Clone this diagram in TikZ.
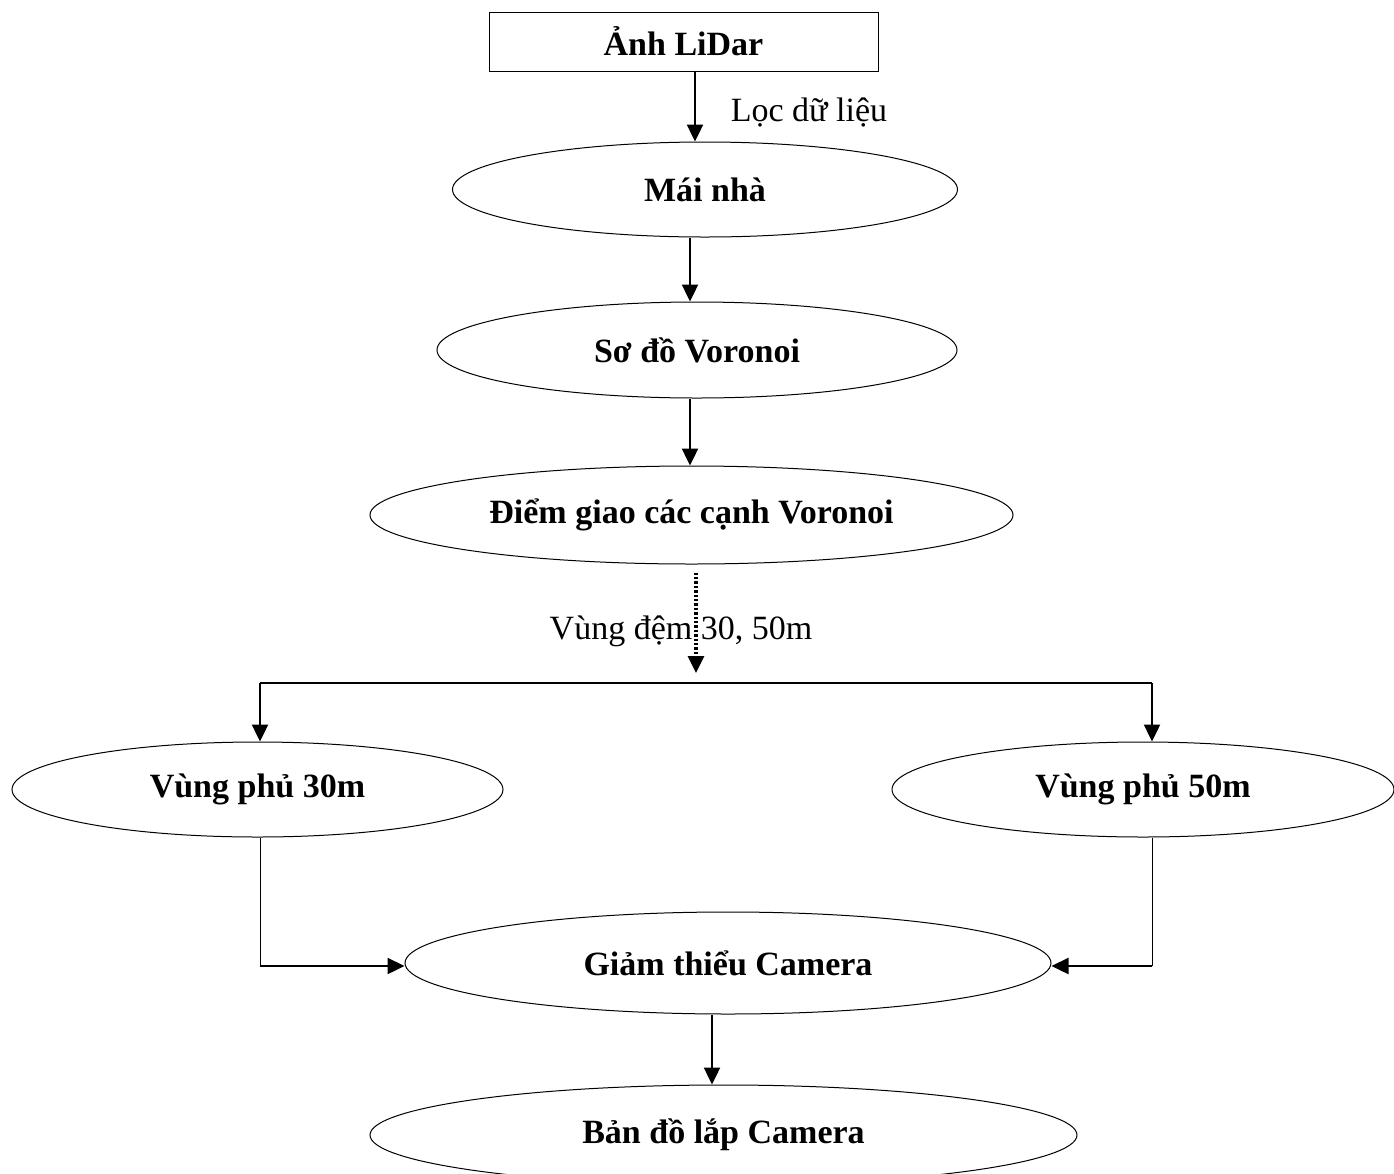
\documentclass[tikz,border=0pt]{standalone}
\usepackage{fontspec}
\setmainfont{Liberation Serif}
\usetikzlibrary{shapes.geometric,arrows.meta}

\tikzset{
  hop/.style={draw,line width=0.5pt,inner sep=0pt,font=\fontsize{17}{20}\selectfont\bfseries},
  elip/.style={hop,ellipse},
  muiten/.style={line width=1.2pt,-{Triangle[length=8.5pt,width=8pt]}},
  manh/.style={line width=0.5pt},
  nhan/.style={font=\fontsize{17}{20}\selectfont}
}

\begin{document}
\begin{tikzpicture}[x=0.5pt,y=-0.5pt]
\useasboundingbox (0,0) rectangle (1394,1174);

% Cac buoc
\node[hop,minimum width=194.5pt,minimum height=29.5pt] (lidar) at (683.5,41.5) {Ảnh LiDar};
\node[elip,minimum width=252.5pt,minimum height=47.5pt] (mai) at (705,189.5) {Mái nhà};
\node[elip,minimum width=260pt,minimum height=48pt] (sodo) at (697,350) {Sơ đồ Voronoi};
\node[elip,minimum width=321.5pt,minimum height=49pt] (diem) at (691.5,515) {Điểm giao các cạnh Voronoi};
\node[elip,minimum width=245.5pt,minimum height=47.5pt] (vp30) at (257.5,789.5) {Vùng phủ 30m};
\node[elip,minimum width=251pt,minimum height=47.5pt] (vp50) at (1143,789.5) {Vùng phủ 50m};
\node[elip,minimum width=323pt,minimum height=51pt] (giam) at (728,963) {Giảm thiểu Camera};
\node[elip,minimum width=353.5pt,minimum height=50pt] (bando) at (723.5,1135) {Bản đồ lắp Camera};

% Vi tri cac mui ten
\coordinate (c1) at (695,0);
\coordinate (c2) at (690,0);
\coordinate (c3) at (696,0);
\coordinate (c4) at (712,0);
\coordinate (tl) at (260,683);
\coordinate (tr) at (1152,683);
\coordinate (bl) at (260,966);
\coordinate (br) at (1152,966);

% Mui ten doc
\draw[muiten] (lidar.south -| c1) -- (mai.north -| c1);
\node[nhan] (loc) at (809,112) {Lọc dữ liệu};
\draw[muiten] (mai.south -| c2) -- (sodo.north -| c2);
\draw[muiten] (sodo.south -| c2) -- (diem.north -| c2);

% Vung dem
\draw[muiten,line width=1.6pt,dash pattern=on 1.2pt off 1pt] ([yshift=-4pt]diem.south -| c3) -- ([yshift=5pt]tl -| c3);
\node[nhan] (dem) at (681,631) {Vùng đệm 30, 50m};

% Re nhanh
\draw[line width=1.2pt] (tl) -- (tr);
\draw[muiten] (tl) -- (tl |- vp30.north);
\draw[muiten] (tr) -- (tr |- vp50.north);

% Gop lai
\draw[manh] (vp30.south -| bl) -- (bl);
\draw[muiten] (bl) -- (giam.west |- bl);
\draw[manh] (vp50.south -| br) -- (br);
\draw[muiten] (br) -- (giam.east |- br);
\draw[muiten] (giam.south -| c4) -- (bando.north -| c4);
\end{tikzpicture}
\end{document}
